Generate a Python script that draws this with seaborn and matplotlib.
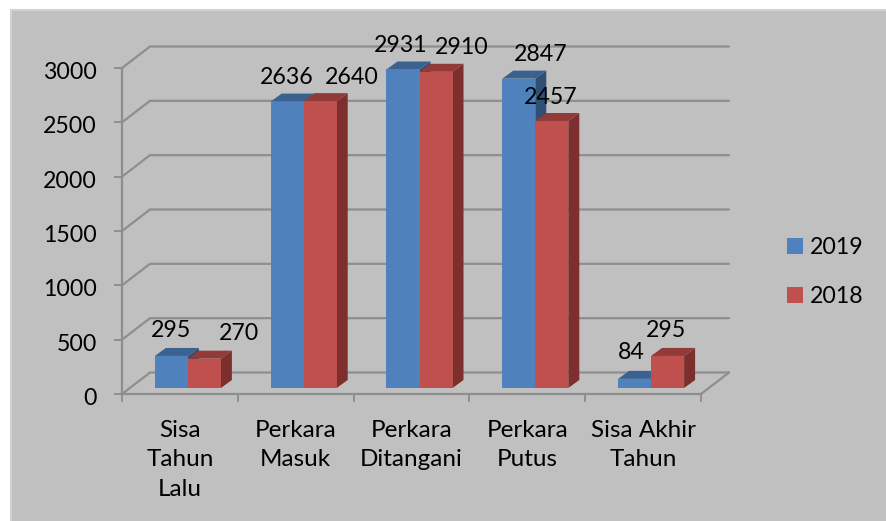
import matplotlib
matplotlib.use("Agg")
import matplotlib.pyplot as plt
from matplotlib.patches import Polygon, Rectangle
from matplotlib.transforms import ScaledTranslation
import pandas as pd
import seaborn as sns

categories = ["Sisa\nTahun\nLalu", "Perkara\nMasuk", "Perkara\nDitangani", "Perkara\nPutus", "Sisa Akhir\nTahun"]
values_2019 = [295, 2636, 2931, 2847, 84]
values_2018 = [270, 2640, 2910, 2457, 295]
y_ticks = [0, 500, 1000, 1500, 2000, 2500, 3000]

W, H = 886, 521
C_FRONT = {"2019": "#4F81BD", "2018": "#C0504D"}
C_TOP = {"2019": "#3A6291", "2018": "#923A37"}
C_SIDE = {"2019": "#2F4F75", "2018": "#7D2F2D"}
GRID = "#8E8E8E"
BG = "#C0C0C0"
FS = 16.7

# label nudges in px from the centre of each bar top
nudge_2019 = [(0, 25), (0, 24), (-2, 24), (22, 24), (-3, 26)]
nudge_2018 = [(35, 25), (32, 24), (26, 24), (-1, 24), (-2, 25)]

df = pd.DataFrame({
    "cat": categories * 2,
    "value": values_2019 + values_2018,
    "year": ["2019"] * 5 + ["2018"] * 5,
})


def box(left, right, bottom, top):
    return [left / W, 1 - bottom / H, (right - left) / W, (bottom - top) / H]


sns.set_theme(style="white")
plt.rcParams["font.family"] = ["Lato", "DejaVu Sans"]

fig = plt.figure(figsize=(W / 100, H / 100), dpi=100, facecolor="white")
fig.patches.append(Rectangle((11 / W, -0.02), 1, 1.02 - 10 / H, transform=fig.transFigure,
                             facecolor=BG, edgecolor="#D2D2D2", linewidth=1.5, zorder=-5))

# axes frame (front plane of the 3d box)
ax = fig.add_axes(box(122, 701, 394, 68))
ax.patch.set_alpha(0)
ax.set_xlim(-0.5, 4.5)
ax.set_ylim(0, 3000)

px_x = 5 / 579
px_y = 3000 / 326
wall_dx = 28 * px_x
wall_dy = 21.5 * px_y
for v in y_ticks:
    ax.plot([-0.5, -0.5 + wall_dx, 4.5 + wall_dx], [v, v + wall_dy, v + wall_dy],
            color=GRID, lw=1.6, clip_on=False, zorder=1, solid_joinstyle="miter")
ax.plot([4.5, 4.5 + wall_dx], [0, wall_dy], color=GRID, lw=1.6, clip_on=False, zorder=1)

for side in ["top", "right"]:
    ax.spines[side].set_visible(False)
for side in ["left", "bottom"]:
    ax.spines[side].set_color(GRID)
    ax.spines[side].set_linewidth(1.6)

ax.set_yticks(y_ticks)
ax.set_xticks([i - 0.5 for i in range(6)], labels=[""] * 6)
ax.set_xticks(range(5), labels=categories, minor=True)
ax.tick_params(axis="y", length=5.5, width=1.4, color=GRID, pad=12.5, labelsize=FS, labelcolor="black", left=True)
ax.tick_params(axis="x", which="major", length=5.5, width=1.4, color=GRID, bottom=True)
ax.tick_params(axis="x", which="minor", length=0, pad=18.5, labelsize=17.5, labelcolor="black")
for lab in ax.get_xticklabels(minor=True):
    lab.set_linespacing(1.5)
    lab.set_verticalalignment("top")
for lab in ax.get_yticklabels():
    lab.set_transform(lab.get_transform() + ScaledTranslation(0, -1.9 / 72, fig.dpi_scale_trans))

# bars sit a little inside the box
bar_ax = fig.add_axes(box(130, 709, 388, 62))
bar_ax.patch.set_alpha(0)
sns.barplot(data=df, x="cat", y="value", hue="year", hue_order=["2019", "2018"],
            order=categories, palette=C_FRONT, width=0.57, gap=0, saturation=1,
            legend=False, linewidth=0, edgecolor="none", ax=bar_ax)
bar_ax.set_xlim(-0.5, 4.5)
bar_ax.set_ylim(0, 3000)
bar_ax.axis("off")

bar_dx = 11 * px_x
bar_dy = 8 * px_y
series = [("2019", values_2019, nudge_2019), ("2018", values_2018, nudge_2018)]
for s, (year, vals, nudges) in enumerate(series):
    patches = bar_ax.containers[s].patches
    for p, val, (nx, ny) in zip(patches, vals, nudges):
        x0, x1 = p.get_x(), p.get_x() + p.get_width()
        z = 2 + s
        p.set_zorder(z + 0.2)
        p.set_clip_on(False)
        bar_ax.add_patch(Polygon([(x1, 0), (x1 + bar_dx, bar_dy), (x1 + bar_dx, val + bar_dy), (x1, val)],
                                 facecolor=C_SIDE[year], edgecolor="none", zorder=z, clip_on=False))
        bar_ax.add_patch(Polygon([(x0, val), (x0 + bar_dx, val + bar_dy), (x1 + bar_dx, val + bar_dy), (x1, val)],
                                 facecolor=C_TOP[year], edgecolor="none", zorder=z, clip_on=False))
        bar_ax.annotate(str(val), ((x0 + x1) / 2, val), xytext=(nx * 0.72, ny * 0.72),
                        textcoords="offset points", ha="center", va="center",
                        fontsize=FS, color="black", zorder=10, annotation_clip=False)

# legend
handles = [Rectangle((0, 0), 1, 1, facecolor=C_FRONT[y], edgecolor="none") for y in ["2019", "2018"]]
fig.legend(handles, ["2019", "2018"], loc="center left", bbox_to_anchor=(766 / W, 1 - 272 / H),
           frameon=False, fontsize=FS, handlelength=0.7, handleheight=0.7,
           handletextpad=0.3, labelspacing=1.2, labelcolor="black")

fig.savefig("out.png", dpi=100, facecolor="white")
